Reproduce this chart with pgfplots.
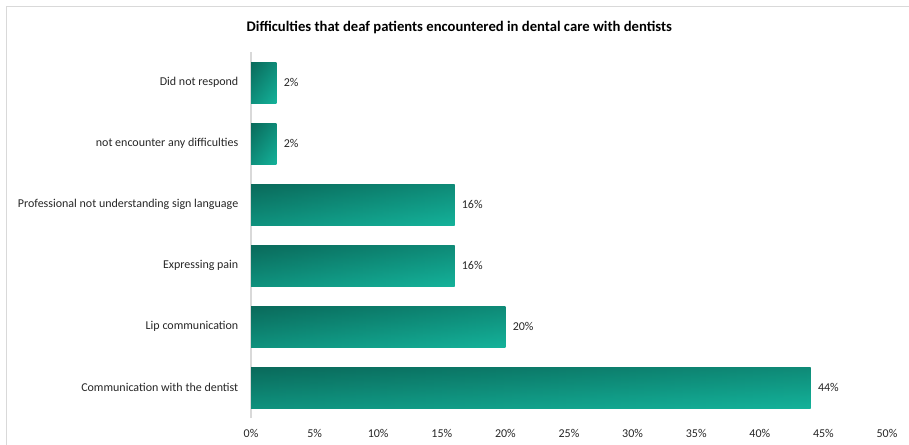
\documentclass[border=0pt]{standalone}
\usepackage{pgfplots}
\pgfplotsset{compat=1.18}
\usepackage{fontspec}
\setmainfont{Carlito}
\definecolor{tealdark}{HTML}{0A6A5B}
\definecolor{teallight}{HTML}{14B29A}
\definecolor{axgray}{HTML}{D9D9D9}
\definecolor{txt}{HTML}{262626}
\begin{document}
\begin{tikzpicture}[x=1pt,y=1pt]
\useasboundingbox (0,0) rectangle (681.75,-333.75);
\begin{scope}
\clip (0,0) rectangle (681.75,-333.75);
\draw[axgray, line width=0.75pt] (4.5,-345) -- (4.5,-5.25) -- (690,-5.25);
\end{scope}
\node[font=\bfseries\fontsize{11}{13}\selectfont, text=black] at (344.5pt,-20.5pt) {Difficulties that deaf patients encountered in dental care with dentists};
\begin{axis}[
  at={(188.25pt,-313.5pt)}, anchor=south west,
  scale only axis, width=477pt, height=274.5pt,
  xbar, bar width=30.75pt, bar shift=0pt,
  xmin=0, xmax=50, ymin=-0.5, ymax=5.5,
  axis lines*=left,
  x axis line style={draw=none},
  y axis line style={draw=axgray, line width=1pt},
  xtick={0,5,...,50},
  xticklabel={\pgfmathprintnumber{\tick}\%},
  ytick={0,1,2,3,4,5},
  yticklabels={Communication with the dentist, Lip communication, Expressing pain, Professional not understanding sign language, not encounter any difficulties, Did not respond},
  major tick length=0pt,
  tick label style={font=\fontsize{9}{10}\selectfont, text=txt},
  /pgf/number format/assume math mode=true,
  xticklabel style={yshift=-5pt},
  yticklabel style={xshift=-6pt},
  clip=false,
  base/.style={draw=none, top color=tealdark, bottom color=teallight,
    nodes near coords={\pgfmathprintnumber{\pgfplotspointmeta}\%},
    nodes near coords style={font=\fontsize{9}{10}\selectfont, text=txt, xshift=2pt}},
  over/.style={draw=none, left color=tealdark, right color=teallight, fill opacity=0.45},
]
\addplot[base] coordinates {(44,0)};
\addplot[over] coordinates {(44,0)};
\addplot[base] coordinates {(20,1)};
\addplot[over] coordinates {(20,1)};
\addplot[base] coordinates {(16,2)};
\addplot[over] coordinates {(16,2)};
\addplot[base] coordinates {(16,3)};
\addplot[over] coordinates {(16,3)};
\addplot[base] coordinates {(2,4)};
\addplot[over] coordinates {(2,4)};
\addplot[base] coordinates {(2,5)};
\addplot[over] coordinates {(2,5)};
\end{axis}
\end{tikzpicture}
\end{document}
